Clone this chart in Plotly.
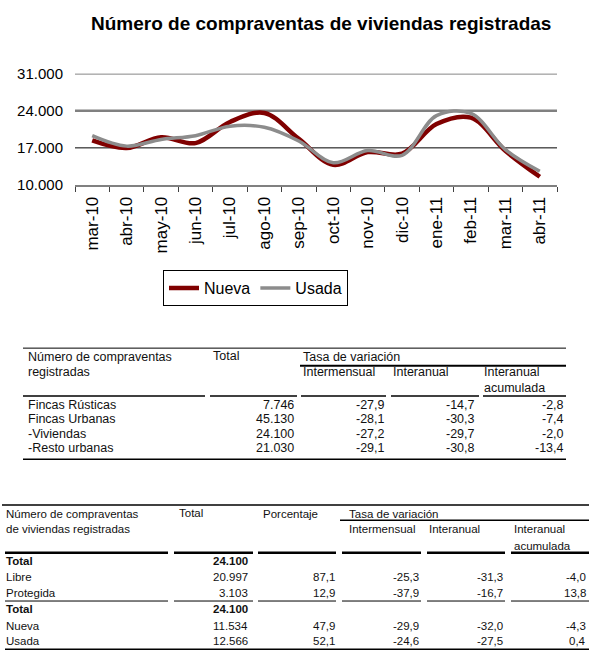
import plotly.graph_objects as go

W, H = 602, 667

# ---------------- data ----------------
months = ["mar-10", "abr-10", "may-10", "jun-10", "jul-10", "ago-10", "sep-10",
          "oct-10", "nov-10", "dic-10", "ene-11", "feb-11", "mar-11", "abr-11"]
nueva = [18400, 16960, 19000, 17900, 21900, 23600, 18700,
         13800, 16200, 15900, 21500, 22700, 16450, 11534]
usada = [19300, 17330, 18600, 19300, 21100, 20900, 18300,
         14200, 16500, 15600, 23100, 23500, 16670, 12566]
y_ticks = [10000, 17000, 24000, 31000]
y_tick_text = ["10.000", "17.000", "24.000", "31.000"]

t1_rows = ["Fincas Rústicas", "Fincas Urbanas", "-Viviendas", "-Resto urbanas"]
t1_total = [7746, 45130, 24100, 21030]
t1_intermensual = [-27.9, -28.1, -27.2, -29.1]
t1_interanual = [-14.7, -30.3, -29.7, -30.8]
t1_acumulada = [-2.8, -7.4, -2.0, -13.4]

t2_rows = ["Total", "Libre", "Protegida", "Total", "Nueva", "Usada"]
t2_total = [24100, 20997, 3103, 24100, 11534, 12566]
t2_porcentaje = [None, 87.1, 12.9, None, 47.9, 52.1]
t2_intermensual = [None, -25.3, -37.9, None, -29.9, -24.6]
t2_interanual = [None, -31.3, -16.7, None, -32.0, -27.5]
t2_acumulada = [None, -4.0, 13.8, None, -4.3, 0.4]
t2_bold = [True, False, False, True, False, False]


def fmt_int(v):
    return f"{v:,}".replace(",", ".")


def fmt_dec(v):
    return "" if v is None else f"{v:.1f}".replace(".", ",")


def px(x):
    return x / W


def py(y):
    return 1 - y / H


FONT = "Liberation Sans, Arial, sans-serif"
TXT = "#111111"

fig = go.Figure()
fig.add_trace(go.Scatter(x=months, y=nueva, name="Nueva", mode="lines",
                         line=dict(color="#800000", width=4.5, shape="spline", smoothing=1)))
fig.add_trace(go.Scatter(x=months, y=usada, name="Usada", mode="lines",
                         line=dict(color="#8c8c8c", width=3.5, shape="spline", smoothing=1)))

shapes = []
annotations = []

grid_style = {31000: ("#000000", 1), 24000: ("#808080", 2.5), 17000: ("#000000", 1)}
for v in y_ticks:
    if v in grid_style:
        c, w = grid_style[v]
        shapes.append(dict(type="line", xref="x domain", yref="y", x0=0, x1=1, y0=v, y1=v,
                           line=dict(color=c, width=w), layer="below"))

annotations.append(dict(text="<b>Número de compraventas de viviendas registradas</b>",
                        x=px(321), y=py(15), xref="paper", yref="paper", showarrow=False,
                        xanchor="center", yanchor="middle",
                        font=dict(size=19, family=FONT, color="#000")))


def txt(t, x, y, anchor="left", size=12.5, bold=False):
    if bold:
        t = "<b>" + t + "</b>"
    annotations.append(dict(text=t, x=px(x), y=py(y), xref="paper", yref="paper",
                            showarrow=False, xanchor=anchor, yanchor="middle",
                            font=dict(size=size, family=FONT, color=TXT), borderpad=0))


def hline(x0, x1, y, w=1):
    shapes.append(dict(type="line", xref="paper", yref="paper", x0=px(x0), x1=px(x1),
                       y0=py(y), y1=py(y), line=dict(color="#000", width=w)))


# ---------------- table 1 ----------------
s1 = 12.5
hline(23, 566, 348, 1)
txt("Número de compraventas", 27, 357, size=s1)
txt("Total", 212, 356, size=s1)
txt("Tasa de variación", 302, 357, size=s1)
hline(300, 566, 366, 2)
txt("registradas", 27, 372, size=s1)
txt("Intermensual", 302, 373, size=s1)
txt("Interanual", 392, 373, size=s1)
txt("Interanual", 483, 373, size=s1)
txt("acumulada", 483, 389, size=s1)
for a, b in [(23, 205), (210, 297), (301, 386), (391, 479), (483, 566)]:
    hline(a, b, 397, 1.5)
t1_y = [406.5, 421.2, 435.8, 450.5]
for i, lab in enumerate(t1_rows):
    y = t1_y[i]
    txt(lab, 27, y, size=s1)
    txt(fmt_int(t1_total[i]), 295, y, "right", s1)
    txt(fmt_dec(t1_intermensual[i]), 386, y, "right", s1)
    txt(fmt_dec(t1_interanual[i]), 476, y, "right", s1)
    txt(fmt_dec(t1_acumulada[i]), 565, y, "right", s1)
hline(23, 566, 462, 1.5)

# ---------------- table 2 ----------------
s2 = 11.5
hline(2, 589, 509, 1.5)
txt("Número de compraventas", 5, 518, size=s2)
txt("Total", 178, 517, size=s2)
txt("Porcentaje", 262, 518, size=s2)
txt("Tasa de variación", 348, 518, size=s2)
hline(340, 589, 524.5, 1.5)
txt("de viviendas registradas", 5, 534, size=s2)
txt("Intermensual", 348, 534, size=s2)
txt("Interanual", 428, 534, size=s2)
txt("Interanual", 513, 534, size=s2)
txt("acumulada", 513, 551, size=s2)
segs2 = [(5, 168), (174, 253), (258, 336), (342, 421), (427, 505), (511, 589)]
for a, b in segs2:
    hline(a, b, 558, 2.5)
for a, b in segs2:
    hline(a, b, 607.5, 1)
t2_y = [566.7, 582.7, 599, 616, 632.7, 648.3]
for i, lab in enumerate(t2_rows):
    y = t2_y[i]
    bold = t2_bold[i]
    txt(lab, 5, y, size=s2, bold=bold)
    txt(fmt_int(t2_total[i]), 249, y, "right", s2, bold)
    for val, xr in [(t2_porcentaje[i], 336), (t2_intermensual[i], 420),
                    (t2_interanual[i], 504), (t2_acumulada[i], 587)]:
        if val is not None:
            txt(fmt_dec(val), xr, y, "right", s2)
hline(5, 589, 657, 1.5)

fig.update_layout(
    width=W, height=H,
    margin=dict(l=0, r=0, t=0, b=0),
    paper_bgcolor="white", plot_bgcolor="white",
    font=dict(family=FONT, color="#000"),
    showlegend=True,
    legend=dict(orientation="h", x=px(163), y=py(268), xanchor="left", yanchor="top",
                bordercolor="#000", borderwidth=1, font=dict(size=16, family=FONT),
                bgcolor="white", itemwidth=30, tracegroupgap=0),
    xaxis=dict(domain=[px(75), px(557)], type="category", range=[-0.5, 13.5],
               showline=True, linecolor="#808080", linewidth=2,
               ticks="outside", tickson="boundaries", ticklen=5, tickwidth=1,
               tickcolor="#404040", tickangle=-90, tickfont=dict(size=17, family=FONT),
               showgrid=False, zeroline=False, ticklabelstandoff=3),
    yaxis=dict(domain=[py(180.5), py(66.5)], range=[10000, 31000],
               tickvals=y_ticks, ticktext=y_tick_text, tickfont=dict(size=15, family=FONT),
               showgrid=False, zeroline=False, showline=False, ticks="",
               ticklabelstandoff=11),
    shapes=shapes,
    annotations=annotations,
)

fig.write_html("out.html", config={"displayModeBar": False},
               post_script="document.body.style.margin='0px';document.documentElement.style.overflow='hidden';")
